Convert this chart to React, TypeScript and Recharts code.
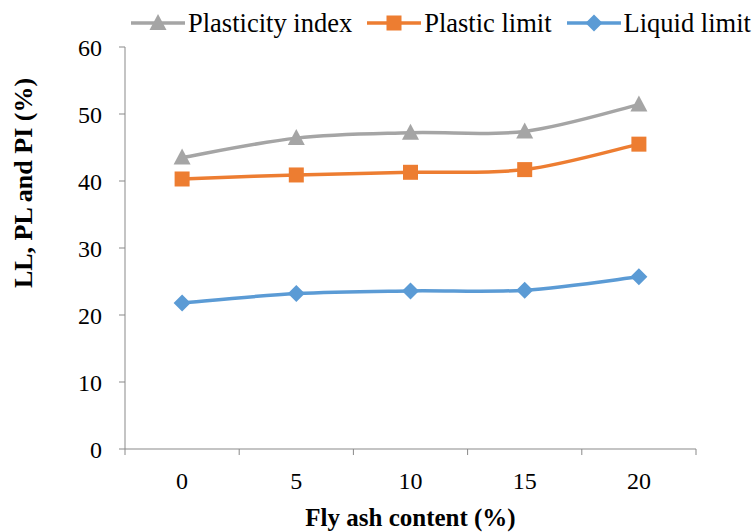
import { LineChart, Line, XAxis, YAxis, ReferenceLine, Label } from "recharts"

// fly ash content (%) on x
const flyAsh = [0, 5, 10, 15, 20]
const plasticityIndex = [43.5, 46.4, 47.2, 47.4, 51.4]
const plasticLimit = [40.3, 40.9, 41.3, 41.7, 45.5]
const liquidLimit = [21.8, 23.2, 23.6, 23.7, 25.7]
const yTicks = [0, 10, 20, 30, 40, 50, 60]
// excel-style tick marks sit between the categories
const categoryEdges = [-2.5, 2.5, 7.5, 12.5, 17.5, 22.5]

const data = flyAsh.map((x, i) => ({
  x,
  pi: plasticityIndex[i],
  pl: plasticLimit[i],
  ll: liquidLimit[i],
}))

const FONT = '"Liberation Serif", "Times New Roman", serif'
const AXIS = "#898989"

type Shape = "triangle" | "square" | "diamond"

const series: { key: string; name: string; color: string; shape: Shape }[] = [
  { key: "pi", name: "Plasticity index", color: "#A5A5A5", shape: "triangle" },
  { key: "pl", name: "Plastic limit", color: "#ED7D31", shape: "square" },
  { key: "ll", name: "Liquid limit", color: "#5B9BD5", shape: "diamond" },
]

// excel "smoothed line": bezier with control points at 1/6 of neighbour spread
function excelSmooth(context: any) {
  let pts: number[][] = []
  return {
    areaStart() {},
    areaEnd() {},
    lineStart() {
      pts = []
    },
    lineEnd() {
      if (!pts.length) return
      context.moveTo(pts[0][0], pts[0][1])
      for (let i = 0; i < pts.length - 1; i++) {
        const p0 = pts[Math.max(i - 1, 0)]
        const p1 = pts[i]
        const p2 = pts[i + 1]
        const p3 = pts[Math.min(i + 2, pts.length - 1)]
        context.bezierCurveTo(
          p1[0] + (p2[0] - p0[0]) / 6,
          p1[1] + (p2[1] - p0[1]) / 6,
          p2[0] - (p3[0] - p1[0]) / 6,
          p2[1] - (p3[1] - p1[1]) / 6,
          p2[0],
          p2[1]
        )
      }
    },
    point(x: number, y: number) {
      pts.push([+x, +y])
    },
  }
}

function marker(shape: Shape, cx: number, cy: number, color: string, key?: string | number) {
  if (shape === "triangle") {
    return <path key={key} d={`M${cx},${cy - 9} L${cx + 8.5},${cy + 7} L${cx - 8.5},${cy + 7} Z`} fill={color} />
  }
  if (shape === "square") {
    return <rect key={key} x={cx - 7.5} y={cy - 7.5} width={15} height={15} fill={color} />
  }
  return <path key={key} d={`M${cx},${cy - 8.5} L${cx + 8.5},${cy} L${cx},${cy + 8.5} L${cx - 8.5},${cy} Z`} fill={color} />
}

function makeDot(shape: Shape, color: string) {
  return (props: any) => {
    const { cx, cy, index } = props
    if (cx == null || cy == null) return <g key={index} />
    return marker(shape, cx, cy, color, index)
  }
}

function LegendRow() {
  return (
    <div
      style={{
        position: "absolute",
        top: 10,
        left: 131,
        display: "flex",
        alignItems: "center",
        fontFamily: FONT,
        fontSize: 26.5,
        lineHeight: "26px",
        whiteSpace: "nowrap",
        color: "#000",
      }}
    >
      {series.map((s) => (
        <div key={s.key} style={{ display: "flex", alignItems: "center", marginRight: 15 }}>
          <svg width={54} height={26} style={{ display: "block" }}>
            <line x1={0} y1={13} x2={54} y2={13} stroke={s.color} strokeWidth={3.5} />
            {marker(s.shape, 27, 13, s.color)}
          </svg>
          <span style={{ marginLeft: 3 }}>{s.name}</span>
        </div>
      ))}
    </div>
  )
}

export default function App() {
  return (
    <div style={{ position: "absolute", left: 0, top: 0, width: 755, height: 532, background: "#fff", overflow: "hidden" }}>
      <LineChart width={755} height={532} data={data} margin={{ top: 47, right: 59, left: 0, bottom: 0 }}>
        <XAxis
          dataKey="x"
          type="number"
          domain={[-2.5, 22.5]}
          ticks={flyAsh}
          tickLine={false}
          tickSize={6}
          tickMargin={17}
          height={83}
          axisLine={{ stroke: AXIS }}
          tick={{ fill: "#000", fontSize: 24, fontFamily: FONT }}
        >
          <Label
            content={({ viewBox }: any) => (
              <text
                x={viewBox.x + viewBox.width / 2}
                y={526}
                textAnchor="middle"
                style={{ fontFamily: FONT, fontSize: 25, fontWeight: "bold", fill: "#000" }}
              >
                Fly ash content (%)
              </text>
            )}
          />
        </XAxis>
        <YAxis
          domain={[0, 60]}
          ticks={yTicks}
          width={125}
          tickSize={6}
          tickMargin={17}
          axisLine={{ stroke: AXIS }}
          tickLine={{ stroke: AXIS }}
          tick={{ fill: "#000", fontSize: 24, fontFamily: FONT }}
        >
          <Label
            content={() => {
              const x = 32
              const y = 183
              return (
                <text
                  x={x}
                  y={y}
                  transform={`rotate(-90, ${x}, ${y})`}
                  textAnchor="middle"
                  style={{ fontFamily: FONT, fontSize: 26, fontWeight: "bold", fill: "#000" }}
                >
                  LL, PL and PI (%)
                </text>
              )
            }}
          />
        </YAxis>
        {categoryEdges.map((e) => (
          <ReferenceLine
            key={e}
            segment={[
              { x: e, y: 0 },
              { x: e, y: -0.9 },
            ]}
            stroke={AXIS}
            ifOverflow="visible"
          />
        ))}
        {series.map((s) => (
          <Line
            key={s.key}
            dataKey={s.key}
            name={s.name}
            type={excelSmooth as any}
            stroke={s.color}
            strokeWidth={3.5}
            dot={makeDot(s.shape, s.color)}
            activeDot={false}
            isAnimationActive={false}
          />
        ))}
      </LineChart>
      <LegendRow />
    </div>
  )
}
